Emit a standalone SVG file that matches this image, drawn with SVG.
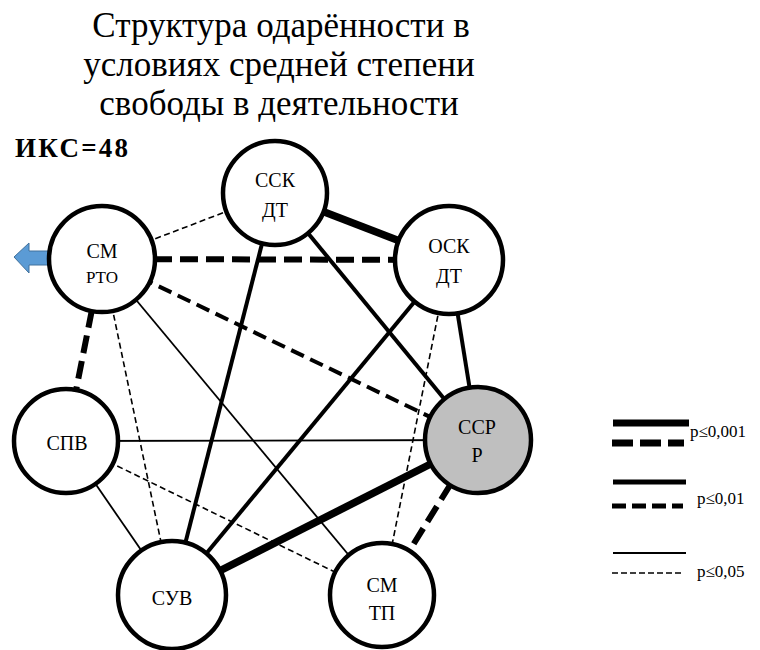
<svg xmlns="http://www.w3.org/2000/svg" width="760" height="650" viewBox="0 0 760 650">
<rect width="760" height="650" fill="#fff"/>
<g id="title" font-family="Liberation Serif, serif" fill="#000">
<g font-size="35" text-anchor="middle">
<text x="281" y="37">Структура одарённости в</text>
<text x="279" y="76">условиях средней степени</text>
<text x="279" y="115">свободы в деятельности</text>
</g>
<text x="15" y="157" font-size="27" font-weight="bold" textLength="113">ИКС=48</text>
</g>
<g id="arrow">
<path d="M14,257 L29,243 L29,251 L52,251 L52,265 L29,265 L29,273 Z" fill="#5b9bd5" stroke="#41719c" stroke-width="1"/>
</g>
<g id="connectors" stroke="#000" fill="none">
<g stroke-width="7.5">
<line x1="275" y1="193" x2="449" y2="260"/>
<line x1="172" y1="595" x2="478" y2="440"/>
</g>
<g stroke-width="6" stroke-dasharray="18 8">
<line x1="102" y1="259" x2="449" y2="260"/>
<line x1="102" y1="259" x2="66" y2="441"/>
<line x1="478" y1="440" x2="382" y2="595"/>
</g>
<g stroke-width="4">
<line x1="275" y1="193" x2="172" y2="595"/>
<line x1="275" y1="193" x2="478" y2="440"/>
<line x1="449" y1="260" x2="172" y2="595"/>
<line x1="449" y1="260" x2="478" y2="440"/>
</g>
<g stroke-width="4" stroke-dasharray="14 7">
<line x1="102" y1="259" x2="478" y2="440"/>
</g>
<g stroke-width="1.8">
<line x1="102" y1="259" x2="382" y2="595"/>
<line x1="66" y1="441" x2="478" y2="440"/>
<line x1="66" y1="441" x2="172" y2="595"/>
</g>
<g stroke-width="1.6" stroke-dasharray="6 3.5">
<line x1="102" y1="259" x2="275" y2="193"/>
<line x1="102" y1="259" x2="172" y2="595"/>
<line x1="449" y1="260" x2="382" y2="595"/>
<line x1="66" y1="441" x2="382" y2="595"/>
</g>
</g>
<g font-family="Liberation Serif, serif" font-size="20" text-anchor="middle" fill="#000">
<g id="n-ssk">
<circle cx="275" cy="193" r="52" fill="#fff" stroke="#000" stroke-width="4.5"/>
<text x="275" y="187">ССК</text>
<text x="275" y="217">ДТ</text>
</g>
<g id="n-smrto">
<circle cx="102" cy="259" r="53" fill="#fff" stroke="#000" stroke-width="4.5"/>
<text x="102" y="258">СМ</text>
<text x="102" y="283" font-size="17">РТО</text>
</g>
<g id="n-osk">
<circle cx="449" cy="260" r="54" fill="#fff" stroke="#000" stroke-width="4.5"/>
<text x="449" y="253">ОСК</text>
<text x="449" y="283">ДТ</text>
</g>
<g id="n-spv">
<circle cx="66" cy="441" r="52" fill="#fff" stroke="#000" stroke-width="4.5"/>
<text x="67" y="450">СПВ</text>
</g>
<g id="n-sspr">
<circle cx="478" cy="440" r="53" fill="#bfbfbf" stroke="#000" stroke-width="4.5"/>
<text x="477" y="434">ССР</text>
<text x="477" y="462">Р</text>
</g>
<g id="n-suv">
<circle cx="172" cy="595" r="54" fill="#fff" stroke="#000" stroke-width="4.5"/>
<text x="172" y="605">СУВ</text>
</g>
<g id="n-smtp">
<circle cx="382" cy="595" r="52" fill="#fff" stroke="#000" stroke-width="4.5"/>
<text x="382" y="592">СМ</text>
<text x="382" y="620">ТП</text>
</g>
</g>
<g id="legend" font-family="Liberation Serif, serif" font-size="17" fill="#000">
<g stroke="#000" fill="none">
<line stroke-width="7" x1="613" y1="423" x2="689" y2="423"/>
<line stroke-width="7" stroke-dasharray="21 7" x1="612" y1="443" x2="684" y2="443"/>
<line stroke-width="5" x1="613" y1="482" x2="686" y2="482"/>
<line stroke-width="5" stroke-dasharray="14 6" x1="612" y1="506" x2="683" y2="506"/>
<line stroke-width="2.2" x1="613" y1="553" x2="686" y2="553"/>
<line stroke-width="1.6" stroke-dasharray="6 3" x1="612" y1="573" x2="683" y2="573"/>
</g>
<text x="690" y="437">p≤0,001</text>
<text x="697" y="504">p≤0,01</text>
<text x="697" y="577">p≤0,05</text>
</g>
</svg>
